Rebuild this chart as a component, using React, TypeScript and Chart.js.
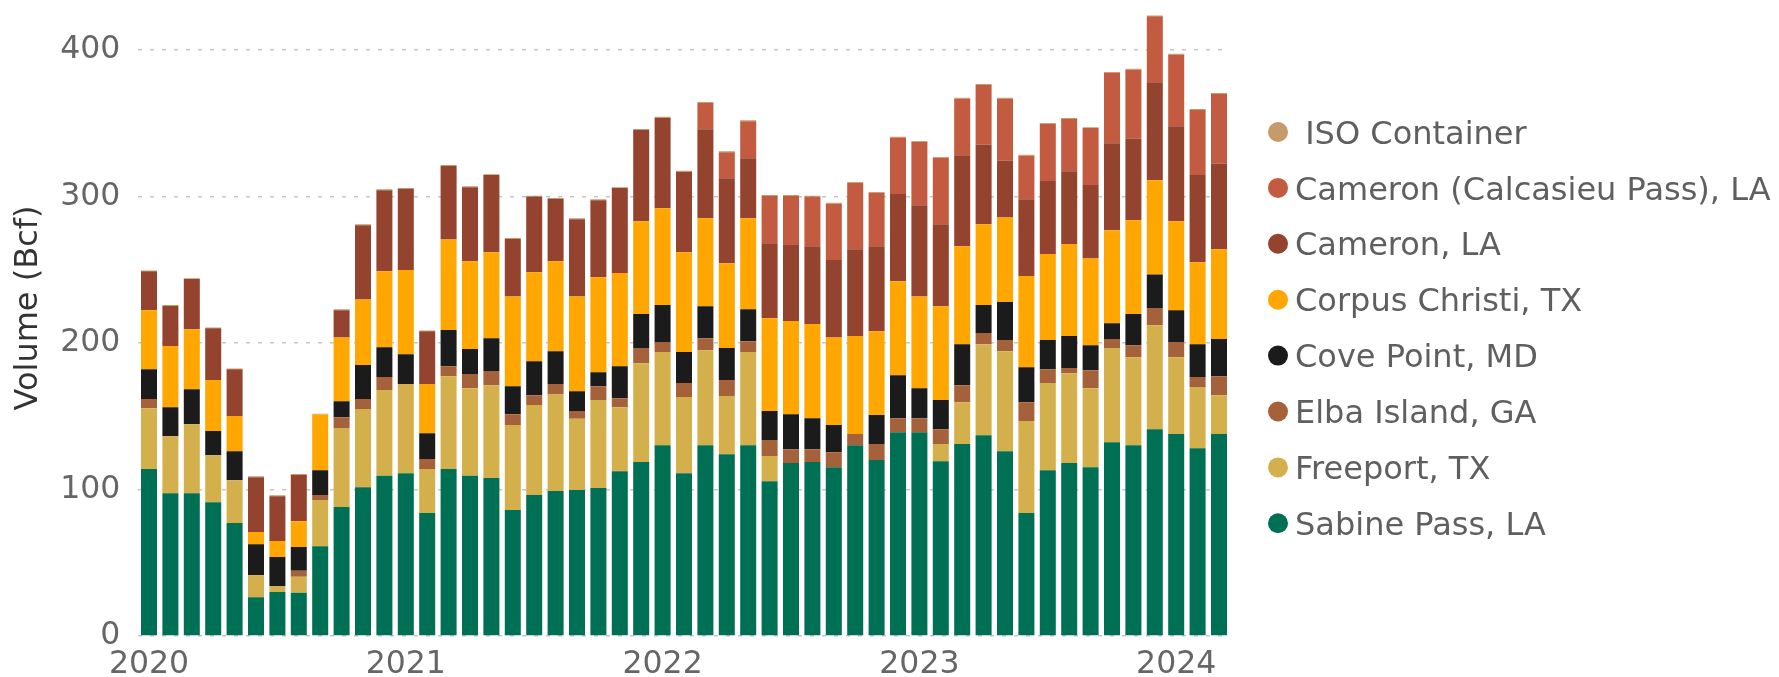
import React, { useEffect, useRef } from "react";
import { Chart, registerables } from "chart.js";

Chart.register(...registerables);

const months: string[] = [
  "2020-01", "2020-02", "2020-03", "2020-04", "2020-05", "2020-06", "2020-07", "2020-08", "2020-09", "2020-10", "2020-11", "2020-12",
  "2021-01", "2021-02", "2021-03", "2021-04", "2021-05", "2021-06", "2021-07", "2021-08", "2021-09", "2021-10", "2021-11", "2021-12",
  "2022-01", "2022-02", "2022-03", "2022-04", "2022-05", "2022-06", "2022-07", "2022-08", "2022-09", "2022-10", "2022-11", "2022-12",
  "2023-01", "2023-02", "2023-03", "2023-04", "2023-05", "2023-06", "2023-07", "2023-08", "2023-09", "2023-10", "2023-11", "2023-12",
  "2024-01", "2024-02", "2024-03",
];

const yTicks: number[] = [0, 100, 200, 300, 400];

const sabinePass: number[] = [
  114, 97.5, 97.5, 91.3, 77.2, 26.5, 30, 29.5, 61.3, 88.1, 101.6, 109.3,
  111, 83.9, 114, 109.3, 107.8, 86, 96.3, 99, 99.6, 101, 112.5, 118.7,
  130.2, 111, 130.2, 124, 130.2, 105.7, 118.1, 118.7, 115.2, 130.2, 120.2, 139,
  139, 119.3, 131.1, 137, 126.1, 83.9, 113.1, 118.1, 115.2, 132.3, 130.2, 141.1,
  137.8, 128.1, 137.8,
];
const freeport: number[] = [
  41.5, 38.9, 47.1, 32.1, 29.1, 15, 4.2, 10.9, 31.5, 53.9, 53.3, 58.6,
  61, 30.1, 63.3, 59.8, 63.3, 58, 61.3, 65.9, 48.6, 60.1, 43.6, 67.5,
  63.6, 52.2, 64.8, 39.8, 63.6, 17.1, 0, 0, 0, 0, 0, 0,
  0, 11.8, 28.5, 62.1, 68.3, 62.8, 59.5, 61.3, 53.9, 64.2, 60.1, 71,
  52.5, 41.9, 26.6,
];
const elbaIsland: number[] = [
  6.2, 0, 0, 0, 0, 0, 0, 4.1, 3.5, 7.3, 6.8, 8.8,
  0, 6.8, 6.8, 9.7, 9.8, 7.4, 6.8, 7.1, 5.3, 9.4, 6.2, 10.3,
  6.8, 9.4, 8.2, 10.9, 7.4, 10.9, 9.4, 8.8, 10.3, 7.6, 10.9, 9.7,
  9.7, 10, 11.5, 7.7, 7.7, 12.9, 9.4, 3.5, 12.3, 6.2, 8.2, 11.8,
  10.3, 6.7, 12.9,
];
const covePoint: number[] = [
  20.3, 19.7, 23.9, 16.5, 19.8, 21.2, 19.7, 16.2, 16.8, 10.9, 23.3, 20.4,
  20.3, 17.6, 24.7, 17.1, 22.3, 19.1, 23.2, 22.4, 13.5, 9.5, 21.8, 23.2,
  25.3, 21.2, 21.8, 21.8, 21.8, 19.8, 23.9, 21.2, 18.5, 0, 19.7, 29.2,
  20.4, 20, 28, 19.1, 25.9, 23.9, 20.1, 21.8, 17.1, 10.8, 21.2, 22.9,
  21.8, 22.4, 25.4,
];
const corpusChristi: number[] = [
  40.4, 41.8, 40.9, 34.8, 24.1, 8.3, 10.9, 17.7, 38, 43.6, 44.7, 51.8,
  57.5, 33.6, 61.9, 59.8, 58.7, 61.3, 60.7, 61.3, 64.8, 64.8, 63.6, 63.4,
  66, 68.1, 60.1, 58, 62.1, 63.3, 63.6, 64.3, 59.8, 66.9, 57.2, 64.2,
  62.7, 63.9, 66.9, 55.1, 57.7, 62.2, 58.6, 62.8, 59.2, 63.4, 64, 64.2,
  60.7, 56, 61.2,
];
const cameron: number[] = [
  26.5, 27.4, 34.2, 35.3, 31.8, 37.4, 30.6, 31.5, 0, 18.6, 50.7, 55.4,
  55.4, 36, 50.1, 50.6, 52.7, 39.2, 51.6, 42.7, 52.7, 52.7, 58, 62.4,
  61.9, 55, 60.7, 58, 41, 51.2, 51.9, 53, 52.8, 59.2, 58, 59.5,
  62.2, 56, 62.1, 54.5, 38.9, 52.4, 49.8, 49.7, 50.1, 59.5, 55.9, 66.9,
  64.8, 59.5, 58.6,
];
const calcasieuPass: number[] = [
  0, 0, 0, 0, 0, 0, 0, 0, 0, 0, 0, 0,
  0, 0, 0, 0, 0, 0, 0, 0, 0, 0, 0, 0,
  0, 0, 18, 17.7, 25.3, 32.4, 33.5, 33.9, 38.5, 45.4, 36.5, 38.6,
  43.3, 45.4, 38.6, 40.6, 42.1, 29.7, 39.1, 35.7, 38.9, 48, 46.9, 45.1,
  48.9, 44.5, 47.5,
];
const isoContainer: number[] = [
  0.6, 0.6, 0.6, 0.6, 0.6, 0.6, 0.6, 0.6, 0.6, 0.6, 0.6, 0.6,
  0.6, 0.6, 0.6, 0.6, 0.6, 0.6, 0.6, 0.6, 0.6, 0.6, 0.6, 0.6,
  0.6, 0.6, 0.6, 0.6, 0.6, 0.6, 0.6, 0.6, 0.6, 0.6, 0.6, 0.6,
  0.6, 0.6, 0.6, 0.6, 0.6, 0.6, 0.6, 0.6, 0.6, 0.6, 0.6, 0.6,
  0.6, 0.6, 0.6,
];

const seriesNames: string[] = [
  "Sabine Pass, LA",
  "Freeport, TX",
  "Elba Island, GA",
  "Cove Point, MD",
  "Corpus Christi, TX",
  "Cameron, LA",
  "Cameron (Calcasieu Pass), LA",
  " ISO Container",
];
const seriesColors: string[] = [
  "#007054", "#D4B04C", "#A5623A", "#1B1B1B", "#FFA600", "#93432E", "#C25B3F", "#C59B6C",
];

const W = 1779;
const H = 677;
const FONT = "DejaVu Sans";

export default function App() {
  const ref = useRef<HTMLCanvasElement>(null);

  useEffect(() => {
    const canvas = ref.current;
    if (!canvas) return;
    const seriesData = [sabinePass, freeport, elbaIsland, covePoint, corpusChristi, cameron, calcasieuPass, isoContainer];

    const overlay = {
      id: "overlay",
      afterDraw(chart: any) {
        const ctx = chart.ctx as CanvasRenderingContext2D;
        ctx.save();
        ctx.font = `32px "${FONT}"`;
        ctx.textAlign = "left";
        ctx.textBaseline = "alphabetic";
        const ds = chart.data.datasets;
        let row = 0;
        for (let k = ds.length - 1; k >= 0; k--) {
          const y = 132 + row * 55.9;
          ctx.fillStyle = ds[k].backgroundColor;
          ctx.beginPath();
          ctx.arc(1278, y, 10, 0, Math.PI * 2);
          ctx.fill();
          ctx.fillStyle = "#5f5f5f";
          ctx.fillText(ds[k].label, 1295, y + 11.6);
          row++;
        }
        ctx.font = `32px "${FONT}"`;
        ctx.translate(37, 308);
        ctx.rotate(-Math.PI / 2);
        ctx.textAlign = "center";
        ctx.fillStyle = "#333333";
        ctx.fillText("Volume (Bcf)", 0, 0);
        ctx.restore();
      },
    };

    const chart = new Chart(canvas, {
      type: "bar",
      data: {
        labels: months,
        datasets: seriesNames.map((name, i) => ({
          label: name,
          data: seriesData[i],
          backgroundColor: seriesColors[i],
          borderWidth: 0,
          barPercentage: 0.748,
          categoryPercentage: 1,
        })),
      },
      options: {
        responsive: false,
        animation: false,
        devicePixelRatio: 1,
        layout: { padding: { top: 6, right: W - 1229.7, left: 0, bottom: 0 } },
        plugins: {
          legend: { display: false },
          tooltip: { enabled: false },
        },
        scales: {
          x: {
            stacked: true,
            grid: { display: false, drawTicks: false },
            border: { display: false },
            ticks: {
              autoSkip: false,
              maxRotation: 0,
              minRotation: 0,
              padding: 10,
              color: "#666666",
              font: { family: FONT, size: 31.5 },
              callback: (_v: any, i: number) => {
                const m = months[i];
                return m && m.endsWith("-01") ? m.slice(0, 4) : "";
              },
            },
            afterFit: (scale: any) => {
              scale.height = H - 636;
              scale.paddingLeft = 0;
              scale.paddingRight = 0;
            },
          },
          y: {
            stacked: true,
            min: 0,
            max: 430,
            grid: { color: "#c6c6c6", lineWidth: 1.5, drawTicks: false },
            border: { display: false, dash: [4, 8] },
            ticks: {
              padding: 18,
              color: "#666666",
              font: { family: FONT, size: 31.5 },
            },
            afterBuildTicks: (scale: any) => {
              scale.ticks = yTicks.map((v) => ({ value: v }));
            },
            afterFit: (scale: any) => {
              scale.width = 138.3;
              scale.paddingTop = 0;
              scale.paddingBottom = 0;
            },
          },
        },
      },
      plugins: [overlay],
    });
    return () => chart.destroy();
  }, []);

  return (
    <div style={{ position: "fixed", left: 0, top: 0, width: W, height: H, background: "#ffffff" }}>
      <canvas ref={ref} width={W} height={H} style={{ width: W, height: H, display: "block" }} />
    </div>
  );
}
